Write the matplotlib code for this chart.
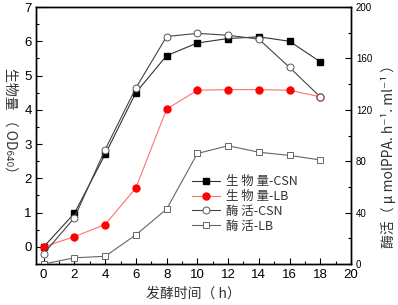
import numpy as np
import matplotlib.pyplot as plt
from matplotlib.ticker import MultipleLocator

cjk = ['Noto Sans CJK SC', 'DejaVu Sans']
plt.rcParams['font.family'] = ['Liberation Sans', 'DejaVu Sans']

hours = [0, 2, 4, 6, 8, 10, 12, 14, 16, 18]
# biomass (OD640), left axis
biomass_csn = [0.0, 0.98, 2.7, 4.5, 5.58, 5.95, 6.08, 6.13, 6.0, 5.4]
biomass_lb = [0.0, 0.3, 0.65, 1.72, 4.02, 4.57, 4.59, 4.59, 4.57, 4.38]
# enzyme activity, right axis
enzyme_csn = [8, 36, 89, 137, 177, 179.5, 178, 175, 153, 130]
enzyme_lb = [0, 4.8, 6, 22.7, 42.7, 86, 92, 87, 84.5, 81]

names = ['生 物 量-CSN', '生 物 量-LB', '酶 活-CSN', '酶 活-LB']

fig = plt.figure(figsize=(3.98, 3.05), dpi=100)
ax = fig.add_axes([36/398, 1-264/305, 315/398, 257/305])
ax2 = ax.twinx()

l1, = ax.plot(hours, biomass_csn, color='#333333', lw=0.8, marker='s', ms=4.5,
              mfc='black', mec='black')
l2, = ax.plot(hours, biomass_lb, color='#ff7070', lw=0.8, marker='o', ms=5,
              mfc='red', mec='red')
l3, = ax2.plot(hours, enzyme_csn, color='#444444', lw=0.8, marker='o', ms=5,
               mfc='white', mec='#555555', mew=0.7)
l4, = ax2.plot(hours, enzyme_lb, color='#666666', lw=0.8, marker='s', ms=4.5,
               mfc='white', mec='#666666', mew=0.7)

ax.set_xlim(-0.5, 20)
ax.set_ylim(-0.5, 7)
ax2.set_ylim(0, 200)
ax.xaxis.set_major_locator(MultipleLocator(2))
ax.xaxis.set_minor_locator(MultipleLocator(1))
ax.yaxis.set_major_locator(MultipleLocator(1))
ax.yaxis.set_minor_locator(MultipleLocator(0.5))
ax2.yaxis.set_major_locator(MultipleLocator(40))
ax2.yaxis.set_minor_locator(MultipleLocator(20))

ax.tick_params(which='both', direction='in', labelsize=9.5)
ax.tick_params(which='major', length=4, width=0.8)
ax.tick_params(which='minor', length=2, width=0.8)
ax.tick_params(axis='y', pad=3)
ax2.tick_params(which='both', direction='in', labelsize=7)
ax2.tick_params(which='major', length=4, width=0.8)
ax2.tick_params(which='minor', length=2, width=0.8)
for a in (ax, ax2):
    for s in a.spines.values():
        s.set_linewidth(1.0)

ax.set_xlabel('发酵时间（ h）', family=cjk, fontsize=10, color='#333333', labelpad=4)
ax.set_ylabel('生物量 （ OD₆₄₀）', family=cjk, fontsize=10, color='#333333',
              rotation=-90)
ax.yaxis.set_label_coords(-0.105, 0.545)
ax2.set_ylabel('酶活（ μ molPPA. h⁻¹. ml⁻¹ ）', family=cjk, fontsize=10,
               color='#333333', rotation=90)
ax2.yaxis.set_label_coords(1.095, 0.43)

leg = ax.legend([l1, l2, l3, l4], names, loc='upper left',
                bbox_to_anchor=(0.46, 0.39), frameon=False,
                prop={'family': cjk, 'size': 9}, handlelength=2.2,
                labelspacing=0.15, handletextpad=0.5)
for t in leg.get_texts():
    t.set_color('#333333')

fig.savefig('out.png', dpi=100)
